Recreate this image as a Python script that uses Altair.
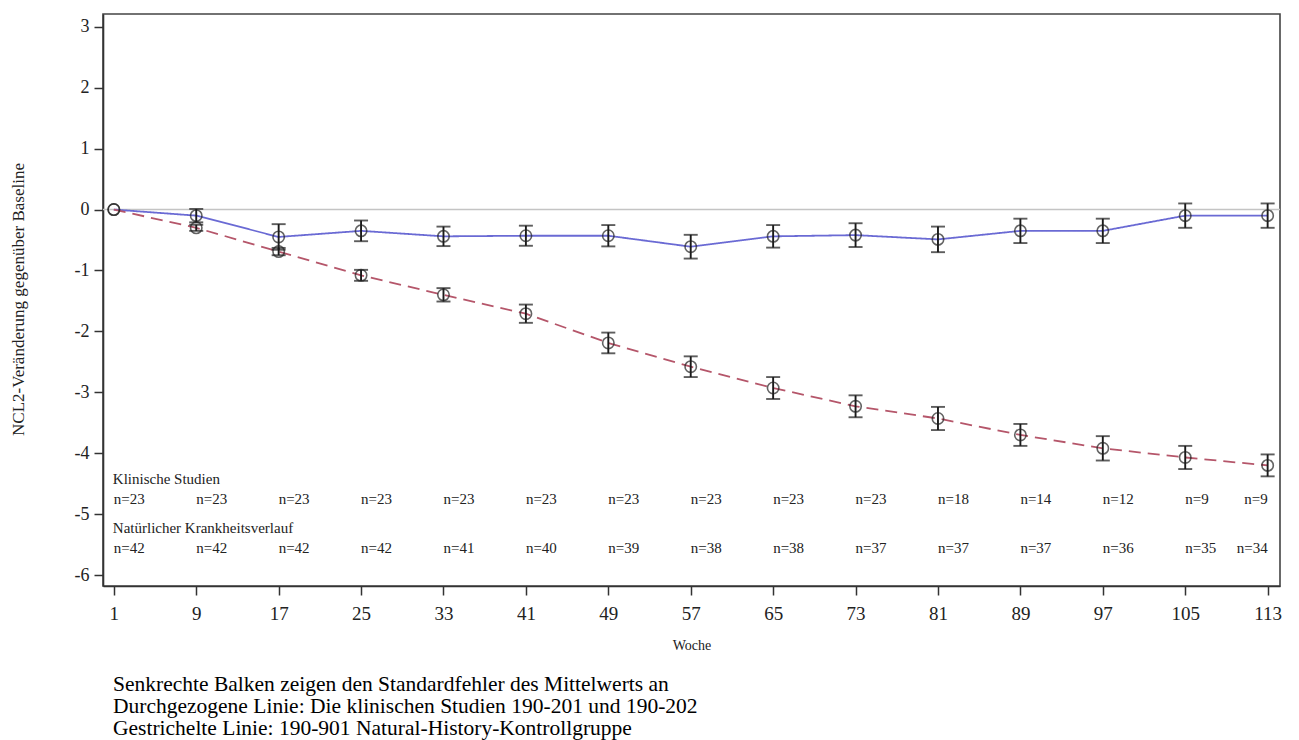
import altair as alt
import pandas as pd

weeks = [1, 9, 17, 25, 33, 41, 49, 57, 65, 73, 81, 89, 97, 105, 113]
groups = ["Klinische Studien", "Natürlicher Krankheitsverlauf"]

clin_mean = [0.0, -0.10, -0.45, -0.35, -0.44, -0.43, -0.43, -0.61, -0.44, -0.42, -0.49, -0.35, -0.35, -0.10, -0.10]
clin_se = [None, 0.11, 0.21, 0.17, 0.16, 0.165, 0.175, 0.195, 0.185, 0.195, 0.21, 0.20, 0.20, 0.20, 0.20]
clin_n = [23, 23, 23, 23, 23, 23, 23, 23, 23, 23, 18, 14, 12, 9, 9]

nh_mean = [0.0, -0.30, -0.69, -1.08, -1.40, -1.71, -2.19, -2.58, -2.93, -3.23, -3.43, -3.70, -3.92, -4.07, -4.20]
nh_se = [None, 0.05, 0.06, 0.09, 0.11, 0.15, 0.17, 0.17, 0.18, 0.18, 0.19, 0.18, 0.20, 0.19, 0.18]
nh_n = [42, 42, 42, 42, 41, 40, 39, 38, 38, 37, 37, 37, 36, 35, 34]

y_ticks = [-6, -5, -4, -3, -2, -1, 0, 1, 2, 3]
zero_line = [0]

footnotes = [
    "Senkrechte Balken zeigen den Standardfehler des Mittelwerts an",
    "Durchgezogene Linie: Die klinischen Studien 190-201 und 190-202",
    "Gestrichelte Linie: 190-901 Natural-History-Kontrollgruppe",
]

rows = []
for g, means, ses, ns in [(groups[0], clin_mean, clin_se, clin_n), (groups[1], nh_mean, nh_se, nh_n)]:
    for w, m, s, n in zip(weeks, means, ses, ns):
        rows.append({"group": g, "week": w, "mean": m, "se": s, "n": f"n={n}"})
df = pd.DataFrame(rows)

FONT = "Liberation Serif"
W, H = 1177, 572

xscale = alt.Scale(domain=[-0.05, 114.2], nice=False, zero=False)
yscale = alt.Scale(domain=[-6.18, 3.21], nice=False, zero=False)

xaxis = alt.Axis(values=weeks, title="Woche", grid=False, tickSize=9, labelPadding=9,
                 labelFontSize=19, labelFont=FONT, labelColor="#222",
                 titleFont=FONT, titleFontSize=14, titleFontWeight="normal", titleColor="#222",
                 titleX=W / 2, titleY=59, titleBaseline="middle", titleAlign="center")
yaxis = alt.Axis(values=y_ticks, title="NCL2-Veränderung gegenüber Baseline", grid=False,
                 tickSize=9, labelPadding=5, labelFontSize=18, labelFont=FONT, labelColor="#222",
                 labelExpr="'' + datum.value",
                 titleFont=FONT, titleFontSize=17, titleFontWeight="normal", titleColor="#222",
                 titleAngle=270, titleX=-85, titleY=285, titleBaseline="middle", titleAlign="center")

X = alt.X("week:Q", scale=xscale, axis=xaxis)
Y = alt.Y("mean:Q", scale=yscale, axis=yaxis)

base = alt.Chart(df)

zero = alt.Chart(pd.DataFrame({"v": zero_line})).mark_rule(color="#c4c4c4", strokeWidth=1.6).encode(
    y=alt.Y("v:Q", scale=yscale, axis=yaxis)
)

lines = base.mark_line(strokeWidth=1.8).encode(
    x=X, y=Y,
    color=alt.Color("group:N", scale=alt.Scale(domain=groups, range=["#6a6ad4", "#b5566a"]), legend=None),
    strokeDash=alt.StrokeDash("group:N", scale=alt.Scale(domain=groups, range=[[1, 0], [12, 7]]), legend=None),
)

eb = base.transform_filter("isValid(datum.se)").transform_calculate(
    lo="datum.mean - datum.se", hi="datum.mean + datum.se"
)
bars = eb.mark_rule(color="#1a1a1a", strokeWidth=1.9).encode(
    x=X, y=alt.Y("lo:Q", scale=yscale, axis=yaxis), y2="hi:Q"
)
cap_lo = eb.mark_tick(orient="horizontal", size=14, thickness=1.9, color="#1a1a1a").encode(
    x=X, y=alt.Y("lo:Q", scale=yscale, axis=yaxis)
)
cap_hi = eb.mark_tick(orient="horizontal", size=14, thickness=1.9, color="#1a1a1a").encode(
    x=X, y=alt.Y("hi:Q", scale=yscale, axis=yaxis)
)

points = base.mark_point(shape="circle", filled=False, size=130, strokeWidth=1.6, color="#222").encode(
    x=X, y=Y
)

last_week = weeks[-1]
first_week = weeks[0]


def nrow(group, ypix):
    left = base.transform_filter(f"datum.group == '{group}' && datum.week < {last_week}").mark_text(
        align="left", baseline="middle", font=FONT, fontSize=15, dx=0, color="#222"
    ).encode(x=X, y=alt.value(ypix), text="n:N")
    right = base.transform_filter(f"datum.group == '{group}' && datum.week == {last_week}").mark_text(
        align="right", baseline="middle", font=FONT, fontSize=15, dx=0, color="#222"
    ).encode(x=X, y=alt.value(ypix), text="n:N")
    return left + right


def header(group, ypix):
    return base.transform_filter(f"datum.group == '{group}' && datum.week == {first_week}").mark_text(
        align="left", baseline="middle", font=FONT, fontSize=15, dx=-1, color="#222"
    ).encode(x=X, y=alt.value(ypix), text="group:N")


chart = alt.layer(
    zero, lines, bars, cap_lo, cap_hi, points,
    header(groups[0], 465), nrow(groups[0], 485),
    header(groups[1], 514), nrow(groups[1], 534),
).properties(
    width=W, height=H,
    autosize=alt.AutoSizeParams(type="none"),
    padding={"left": 95, "top": 6, "right": 11, "bottom": 154},
    title=alt.TitleParams(text=footnotes, orient="bottom", anchor="start", frame="group",
                          font=FONT, fontSize=21.5, fontWeight="normal", color="black",
                          lineHeight=22, dx=10, offset=22),
).configure_view(
    stroke="#444", strokeWidth=1.6
).configure_axis(
    domainColor="#333", domainWidth=1.6, tickColor="#333", tickWidth=1.5
)

chart.save("out.html", embed_options={"renderer": "svg", "actions": False})
